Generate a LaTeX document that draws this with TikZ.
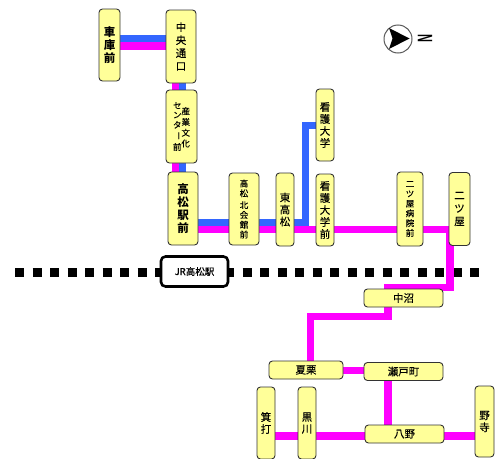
\documentclass[tikz,border=0pt]{standalone}
\usepackage{fontspec}
\setmainfont[FakeBold=0.3]{Noto Sans CJK JP}
\newfontfamily\heavyf{Noto Sans CJK JP}
\newfontfamily\latinf{Liberation Sans}
\usetikzlibrary{backgrounds}
\definecolor{stationy}{HTML}{FFFF99}
\definecolor{routem}{HTML}{FF00FF}
\definecolor{routeb}{HTML}{3366FF}
\tikzset{
  st/.style={draw=black!80,line width=0.9pt,fill=stationy,rounded corners=3.5pt,inner sep=0pt,align=center,text=black},
  big/.style={font=\fontsize{10.5}{13}\selectfont},
  mid/.style={font=\fontsize{10.5}{12}\selectfont},
  small/.style={font=\fontsize{8.5}{9.8}\selectfont},
  strong/.style={font=\heavyf\bfseries\fontsize{11.5}{13}\selectfont},
  mg/.style={draw=routem,line width=7.4pt},
  bl/.style={draw=routeb,line width=7.2pt},
}
\begin{document}
\begin{tikzpicture}[x=1pt,y=-1pt]
\useasboundingbox (0,0) rectangle (495,458);
% rail ends and bends
\coordinate (railW) at (15,272);
\coordinate (railE) at (481,272);
\coordinate (bendKango) at (305.5,125.5);
\coordinate (bendNiR) at (450,229.5);
\coordinate (bendNiB) at (450,287.5);
\coordinate (bendNakaR) at (388,287.5);
\coordinate (bendNakaB) at (388,316.5);
\coordinate (bendNatsu) at (310.5,316.5);
\coordinate (lineB) at (305.5,222.5);
% stations
\path
 (109.5,45) node[st,minimum width=21,minimum height=72,strong] (kuko) {車\\庫\\前}
 (181,46.5) node[st,minimum width=30,minimum height=73,big] (chuo) {中\\央\\通\\口}
 (181.5,126.5) node[st,minimum width=31,minimum height=73,small] (sangyo) {\shortstack{セ\\ン\\タ\\\rotatebox{-90}{ー}\\前}\hspace{0pt}\raisebox{3.5pt}{\shortstack{産\\業\\文\\化}}}
 (183,208.5) node[st,minimum width=30,minimum height=73,strong] (takaeki) {高\\松\\駅\\前}
 (244,209) node[st,minimum width=30,minimum height=72,small] (kita) {高\\松\\[2pt]北\\会\\館\\前}
 (285,209.5) node[st,minimum width=18,minimum height=73,mid] (higashi) {東\\高\\松}
 (325,125) node[st,minimum width=18,minimum height=72,mid] (kango) {看\\護\\大\\学}
 (325,210) node[st,minimum width=18,minimum height=72,mid] (kangomae) {看\\護\\大\\学\\前}
 (410,209) node[st,minimum width=26,minimum height=74,small] (byoin) {二\\ツ\\屋\\病\\院\\前}
 (459.5,209) node[st,minimum width=21,minimum height=73,big] (niya) {二\\ツ\\屋}
 (403.5,298) node[st,minimum width=79,minimum height=18,mid] (nakanuma) {中沼}
 (306,370) node[st,minimum width=74,minimum height=18,mid] (natsu) {夏栗}
 (403.5,371.5) node[st,minimum width=79,minimum height=18,mid] (seto) {瀬戸町}
 (404.5,434) node[st,minimum width=79,minimum height=18,mid] (yano) {八野}
 (266,423) node[st,minimum width=18,minimum height=72,mid] (minouchi) {箕\\打}
 (307,423) node[st,minimum width=18,minimum height=72,mid] (kurokawa) {黒\\川}
 (484.5,421.5) node[st,minimum width=19,minimum height=71,mid] (nodera) {野\\寺}
 (194.5,271.5) node[draw=black,line width=2.6pt,fill=white,rounded corners=4.5pt,minimum width=67,minimum height=30,inner sep=0pt,font=\fontsize{9.5}{11}\selectfont] (jr) {JR高松駅};
\begin{scope}[on background layer]
\fill[white] (0,0) rectangle (495,458);
% rail
\draw[black,line width=9pt,dash pattern=on 9pt off 8.5pt] (railW) -- (railE);
% connectors
\draw[bl] (kuko.center |- 0,38.7) -- (chuo.center |- 0,38.7);
\draw[mg] (kuko.center |- 0,46) -- (chuo.center |- 0,46);
\draw[mg] (175.5,0 |- chuo.center) -- (175.5,0 |- takaeki.center);
\draw[bl] (182.7,0 |- chuo.center) -- (182.7,0 |- takaeki.center);
\draw[bl] (takaeki.center |- lineB) -- (lineB);
\draw[bl,line join=miter] (kango.center |- bendKango) -- (bendKango) -- (lineB |- 0,226);
\draw[mg] (takaeki.center |- bendNiR) -- (niya.center |- bendNiR);
\draw[mg,line join=miter] (kangomae.center |- bendNiR) -- (bendNiR) -- (bendNiB) -- (bendNakaR) -- (nakanuma.center -| bendNakaR);
\draw[mg,line join=miter] (nakanuma.center -| bendNakaB) -- (bendNakaB) -- (bendNatsu) -- (natsu.center -| bendNatsu);
\draw[mg] (natsu.center |- 0,370.5) -- (seto.center |- 0,370.5);
\draw[mg] (seto.center -| bendNakaB) -- (yano.center -| bendNakaB);
\draw[mg] (minouchi.center |- 0,436) -- (nodera.center |- 0,436);
\end{scope}
% compass
\node[circle,draw=black!65,line width=1pt,fill=white,minimum size=28,inner sep=0pt] (compass) at (398,39) {};
\fill[black] (389,28) -- (409.5,38.5) -- (389,49) -- (392.5,38.5) -- cycle;
\node[rotate=-90,font=\latinf\fontsize{11}{11}\selectfont\bfseries,inner sep=0pt] (north) at (425,38.5) {\scalebox{1}[1.9]{N}};
\end{tikzpicture}
\end{document}
